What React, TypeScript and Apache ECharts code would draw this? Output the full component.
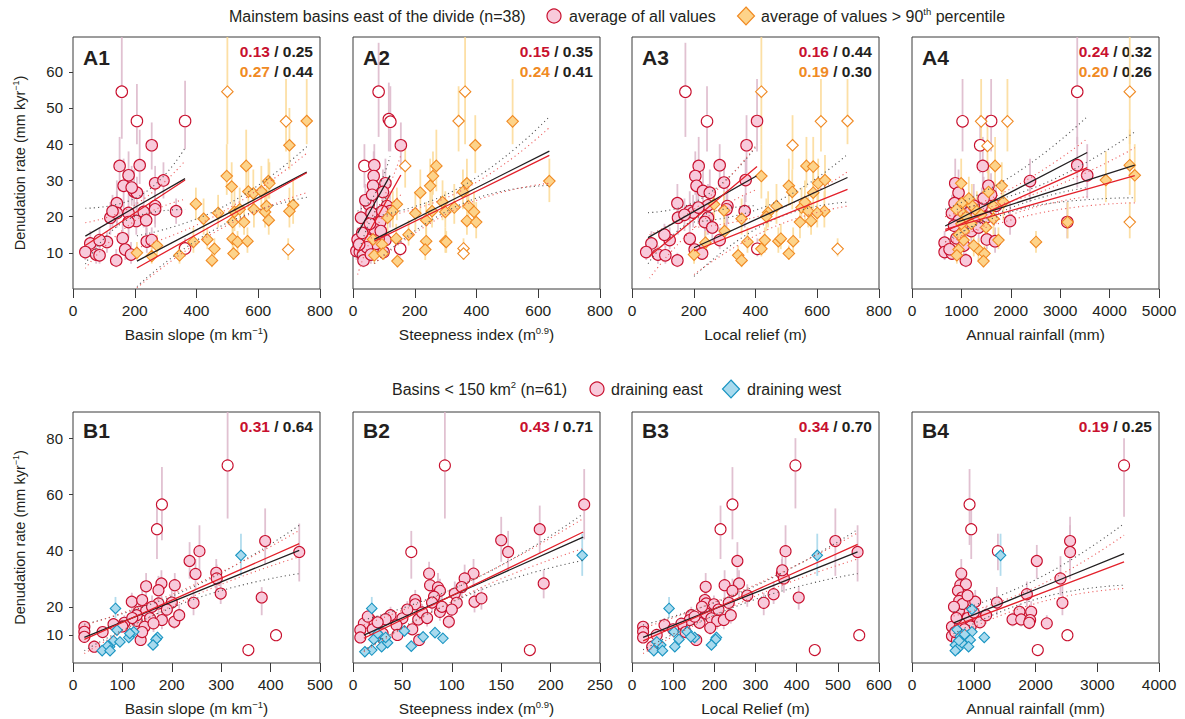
import React, { useEffect, useRef } from "react";
import * as echarts from "echarts";

// ---------- DATA: [x, y, errLow, errHigh, open(1)/filled(0)] ----------
const A1_EAST = [
  [158,54.5,41.5,70,1],[207,46.4,40,56.6,1],[363,46.4,38.6,57.5,1],[255,39.7,33,46,0],[151,34,27,42,0],
  [216,34.2,29,44,0],[180,31.4,26,38,0],[164,28.5,22,36,0],[198,26.9,22,33,0],[207,26.6,21,31,0],
  [266,29.2,24,34,0],[293,30,25,35,0],[142,23.7,18,30,0],[121,19.7,15,24,0],[142,21,17,27,0],
  [180,21,17,26,0],[229,21.3,17,27,0],[266,22.9,18,28,0],[266,22,17,27,0],[334,21.5,18,25,0],
  [205,18.8,15,24,0],[237,19,14,23,0],[180,18.5,14,22,0],[56,12.6,10,16,0],[40,10.2,8,13,0],
  [75,9.5,7,12,0],[86,9.3,7,12,0],[110,13,10,16,0],[86,13.5,11,17,0],[161,14,11,18,0],
  [169,10.9,8,14,0],[140,7.9,6,11,0],[188,9.5,7,13,0],[239,13.1,10,17,0],[255,13.5,11,17,0],
  [363,11.2,9,14,1],[128,21.5,17,26,0],[190,28,23,34,0],
];
const A1_P90 = [
  [500,54.5,40,70,1],[690,46.3,38,58,1],[757,46.4,40,58,0],[701,39.7,33,50,0],[561,34,28,44,0],
  [498,31.2,26,40,0],[514,28.3,24,35,0],[568,26.9,22,33,0],[584,26.4,22,33,0],[633,29.8,25,36,0],
  [636,29.2,25,35,0],[398,23.5,19,28,0],[423,19.4,15,25,0],[523,21.3,16,28,0],[586,22,17,27,0],
  [622,21.3,17,27,0],[627,22.9,18,29,0],[713,23.2,18,30,0],[701,21.5,17,28,0],[634,19,15,24,0],
  [554,18.5,15,23,0],[517,18.5,14,24,0],[435,13.7,11,17,0],[390,13,10,17,0],[458,11.1,9,14,0],
  [517,13.9,11,18,0],[533,13,10,16,0],[565,13.2,10,17,0],[520,9.8,8,13,0],[450,7.9,6,10,0],
  [345,9.3,7,12,0],[272,12,9,15,0],[207,10,8,13,0],[255,9.1,7,12,0],[697,10.9,8,14,1],
  [540,22,17,28,0],[470,21,17,26,0],[610,27,22,34,0],
];
const A2_EAST = [
  [83,54.5,42,68,1],[116,46.9,38,57,1],[121,46.2,38,56,1],[155,39.7,33,46,0],[37,34,28,40,1],
  [69,34.2,28,40,0],[67,31.2,26,38,0],[105,29.2,24,36,0],[65,28.5,23,34,0],[97,26.8,22,33,0],
  [51,23.4,19,28,0],[110,22.9,18,28,0],[26,19.7,16,24,0],[78,20.6,16,26,0],[120,21.5,17,27,0],
  [88,18.5,14,23,0],[60,21,17,26,0],[40,24.5,20,29,0],[15,13.7,11,17,0],[47,13.7,11,17,0],
  [11,10.5,8,13,0],[22,10.2,8,13,0],[32,9.3,7,12,0],[34,7.9,6,10,0],[99,10.2,8,13,0],
  [105,13.5,10,17,0],[83,13.9,11,18,0],[153,11.1,9,14,1],[70,16.5,13,20,0],[55,18,14,22,0],
  [90,16,12,20,0],[30,15.5,12,19,0],[75,12.5,10,16,0],[45,11.5,9,14,0],[95,21.5,17,27,0],
  [62,26,21,31,0],[20,12.3,10,15,0],[58,9.5,7,12,0],
];
const A2_P90 = [
  [363,54.5,40,70,1],[342,46.4,38,56,1],[517,46.3,40,58,0],[396,39.7,32,48,0],[169,34,28,40,1],
  [270,34,27,44,0],[259,31.2,26,38,0],[250,28.5,23,36,0],[218,26.6,21,33,0],[369,29.2,24,36,0],
  [356,26.8,22,33,0],[636,29.8,24,36,0],[142,23.4,19,28,0],[129,21.5,17,27,0],[112,19.7,15,25,0],
  [202,20.9,16,27,0],[256,21.5,17,28,0],[299,21.3,17,27,0],[328,22.5,18,29,0],[374,22.9,18,29,0],
  [392,21.3,17,27,0],[237,19,15,24,0],[369,18.8,15,24,0],[399,18.5,14,24,0],[65,13.7,11,17,0],
  [94,12.3,10,16,0],[140,13.9,11,18,0],[237,13.2,10,17,0],[234,10.9,8,14,0],[299,13.2,10,17,0],
  [302,13,10,16,0],[358,11.2,9,14,1],[358,9.8,8,12,1],[69,9.3,7,12,0],[97,9.8,8,12,0],
  [144,7.7,6,10,0],[290,24,19,30,0],[180,15,12,19,0],
];
const A3_EAST = [
  [173,54.5,42,68,1],[243,46.3,38,56,1],[405,46.4,38,58,0],[371,39.7,32,48,0],[216,34,28,42,0],
  [284,34.2,28,40,0],[205,31.2,26,38,0],[209,28.5,23,35,0],[230,27.1,22,33,0],[252,26.6,21,33,0],
  [298,29.4,24,35,0],[368,30.1,24,36,0],[147,23.7,19,29,0],[187,21.5,17,27,0],[149,19.7,15,24,0],
  [198,21.1,17,26,0],[246,23.1,18,29,0],[309,22.9,18,28,0],[306,22,17,27,0],[365,21.5,17,26,0],
  [238,18.8,15,24,0],[246,19.7,15,25,0],[63,12.6,10,16,0],[46,10.2,8,13,0],[84,9.5,7,12,0],
  [108,9.3,7,12,0],[122,13.5,11,17,0],[187,13.9,11,18,0],[203,10.9,8,14,0],[147,7.9,6,10,0],
  [227,9.8,8,13,0],[236,18.5,14,23,0],[284,13.5,11,17,0],[406,11.1,9,14,1],[170,20.5,16,25,0],
  [260,17,13,21,0],[105,15,12,18,0],[215,22.5,18,28,0],
];
const A3_P90 = [
  [419,54.5,40,70,1],[612,46.3,38,58,1],[698,46.4,40,58,1],[520,39.7,33,48,1],[565,34,28,42,0],
  [587,33.8,28,42,0],[419,31.2,25,40,0],[508,28.5,23,36,0],[519,26.8,22,33,0],[603,29.2,24,36,0],
  [625,30.1,25,37,0],[587,26.6,22,33,0],[266,23.4,19,28,0],[298,21.7,17,27,0],[355,19.4,15,25,0],
  [441,21.1,17,27,0],[468,22.9,18,29,0],[549,22.5,18,28,0],[571,21.5,17,27,0],[623,21.5,17,27,0],
  [544,18.5,14,24,0],[580,18.8,15,24,0],[374,13,10,17,0],[430,13.5,10,17,0],[474,13.2,10,17,0],
  [482,13.9,11,18,0],[522,13.2,10,17,0],[419,11.1,9,14,0],[344,9.3,7,12,0],[355,7.9,6,10,0],
  [508,9.8,8,12,0],[201,9.5,7,12,0],[238,12.8,10,16,0],[666,11.1,9,14,1],[435,20,16,25,0],
  [560,24,19,30,0],[600,21,17,26,0],[300,16,13,20,0],
];
const A4_EAST = [
  [3345,54.5,40,70,1],[1023,46.3,38,58,1],[1602,46.4,38,58,1],[1380,39.7,32,48,1],[1433,34,28,42,0],
  [875,29.2,24,36,0],[942,26.6,22,33,0],[1548,28.5,23,35,0],[2389,29.8,24,36,0],[3345,34.2,28,42,0],
  [3547,31.4,25,40,0],[861,23.7,19,29,0],[808,20.9,17,26,0],[1413,22.9,18,28,0],[1514,19.9,16,25,0],
  [1985,18.8,15,24,0],[3143,18.5,14,24,0],[660,12.8,10,16,0],[660,10.2,8,13,0],[808,9.8,8,12,0],
  [1090,7.9,6,10,0],[1514,13.7,11,17,0],[1682,13.2,10,17,0],[1000,22,17,27,0],[1150,21,17,26,0],
  [1250,23,18,29,0],[1300,20,16,25,0],[950,19,15,24,0],[1100,18,14,22,0],[1200,16,13,20,0],
  [900,14,11,17,0],[760,11,9,14,0],[1050,12,9,15,0],[1600,26,21,32,0],[1700,23,18,28,0],
  [1450,25,20,31,0],[1350,17,13,21,0],[850,17.5,14,21,0],
];
const A4_P90 = [
  [4408,54.5,40,70,1],[1400,46.3,38,58,1],[1932,46.3,38,58,1],[1528,39.5,32,48,1],[1682,34,28,42,0],
  [996,29.2,24,36,0],[1817,28.5,23,35,0],[1548,26.8,22,33,0],[4408,34.2,26,44,0],[4509,31.4,24,40,0],
  [3924,30.1,24,38,0],[1009,23.7,19,29,0],[1211,23.1,18,29,0],[976,21.5,17,27,0],[1312,21.5,17,27,0],
  [1649,22.9,18,29,0],[1649,19.4,15,25,0],[3150,18.5,14,24,0],[4408,18.5,14,24,1],[1043,13.5,11,17,0],
  [942,10.9,8,14,0],[1750,13.5,11,17,0],[1346,10.9,8,14,0],[1467,9.8,8,12,0],[1447,7.7,6,10,0],
  [2510,13,10,16,0],[908,9.3,7,12,0],[1100,20,16,25,0],[1200,18,14,23,0],[1400,20.5,16,26,0],
  [900,22,17,27,0],[1050,16,13,20,0],[950,15,12,19,0],[1250,12,9,15,0],[1500,17,13,21,0],
  [1150,25,20,31,0],[1850,24,19,30,0],[1000,18,14,22,0],
];
const B1_EAST = [
  [313,70.3,51.4,89.5,1],[180,56.4,43.7,69.7,1],[170,47.6,37,56,1],[389,43.4,35,55,0],[458,39.5,29,49.6,0],
  [256,39.8,30.6,49,0],[236,36.3,30,43,0],[290,32.1,26,37,0],[291,30.1,25,35,0],[248,31.7,26,37,0],
  [299,24.7,21,29,0],[382,23.3,17,27,0],[244,21.4,17,26,0],[179,28.3,23,33,0],[148,27.3,22,32,0],
  [206,27.7,23,32,0],[173,25.9,21,31,0],[119,21.8,18,25,0],[140,22.4,18,26,0],[173,21.2,17,25,0],
  [200,21.5,18,26,0],[133,18.2,15,21,0],[148,18.6,15,22,0],[156,15.9,13,19,0],[129,15,12,18,0],
  [104,14.3,12,17,0],[82,13.8,11,16,0],[145,12.9,10,16,0],[129,17,14,20,0],[180,15.3,12,18,0],
  [205,14.7,12,18,0],[137,8.2,6,11,0],[23,12.9,11,15,0],[23,11.1,9,13,0],[23,9.3,8,11,0],
  [43,5.8,4,8,0],[411,9.9,8,12,1],[355,4.6,3,6,1],[163,14.1,11,17,0],[190,19,16,23,0],
  [160,20,17,24,0],[120,16,13,19,0],[100,13,11,15,0],[60,11,9,13,0],[215,17,14,21,0],[140,11,9,13,0],
];
const B1_WEST = [
  [340,38.3,31,46,0],[86,19.4,16,23.5,0],[123,11.1,9,13,0],[113,9.1,7.5,11,0],[89,11.7,10,13.5,0],
  [82,7.9,6.5,9.5,0],[74,5.8,4.5,7,0],[70,6,5,7.5,0],[59,4.4,3.5,5.5,0],[171,9.1,7.5,11,0],
  [168,8.4,7,10,0],[162,6.4,5,8,0],[75,4.4,3.5,5.5,0],[115,10.5,9,12,0],[95,7.5,6,9,0],
];
const B2_EAST = [
  [93,70.3,51.4,89.5,1],[59,39.5,30,47,1],[234,56.4,44,69,0],[189,47.6,39,56,0],[150,43.7,36,52,0],
  [157,39.5,33,47,0],[193,28.3,23,33,0],[77,31.8,27,36,0],[122,31.8,27,37,0],[113,30.1,25,35,0],
  [78,27.7,23,32,0],[86,26.9,22,32,0],[88,25.7,21,30,0],[103,24.7,21,29,0],[82,23.6,20,28,0],
  [63,22.4,19,26,0],[105,21.4,18,25,0],[123,21.8,18,26,0],[80,21.5,18,25,0],[63,20.9,17,24,0],
  [88,18.2,15,21,0],[66,15.5,13,18,0],[97,14.7,12,17,0],[50,15.9,13,18,0],[38,17,14,20,0],
  [33,15.6,13,18,0],[17.5,15.3,13,18,0],[11,14.1,12,16,0],[7.4,11.7,10,13.5,0],[7.4,9.1,8,11,0],
  [44,13.5,11,16,0],[67,8.2,6,10,0],[179,4.6,3,6,1],[20,12,10,14,0],[25,14.5,12,17,0],
  [55,19,16,22,0],[70,18,15,21,0],[90,20,17,24,0],[60,12,10,14,0],[30,10.5,9,12,0],
  [15,16.5,14,19,0],[75,16,13,19,0],[100,19,16,22,0],[45,10,8.5,12,0],[130,23,19,27,0],[110,27,23,31,0],
];
const B2_WEST = [
  [232,38.3,31,46,0],[19,19.4,16,23.5,0],[52,11.4,9.5,13,0],[71,9.3,7.5,11,0],[83,10.8,9,12.5,0],
  [91,8.8,7,10.5,0],[59,6,5,7.5,0],[21,8.4,7,10,0],[31,7.6,6,9,0],[29,5.8,4.5,7,0],
  [35,7.2,6,8.5,0],[19,4.6,3.5,6,0],[12,4,3,5,0],[33,9.1,7.5,11,0],[25,10.5,9,12,0],
];
const B3_EAST = [
  [397,70.3,55,80,1],[244,56.4,44,69.7,1],[215,47.6,37,56,1],[494,43.4,31,55,0],[373,39.8,32,49,0],
  [548,39.5,29,49,0],[256,36.3,30,43,0],[364,31.8,26,37,0],[369,30.1,25,35,0],[344,24.5,21,29,0],
  [405,23.3,19,27,0],[320,21.4,17,25,0],[225,27.7,23,33,0],[260,28.3,23,33,0],[244,25.7,21,30,0],
  [179,27.1,22,32,0],[177,22.4,19,26,0],[180,21.2,18,25,0],[199,20.9,17,24,0],[235,21.4,18,25,0],
  [144,17,14,20,0],[180,17.6,15,21,0],[193,15.9,13,19,0],[207,15,12,18,0],[223,15.3,12,18,0],
  [164,14.3,12,17,0],[79,13.5,11,16,0],[140,15.3,12,18,0],[156,8.2,6,10,0],[27,12.9,11,15,0],
  [27,11.1,9,13,0],[27,9.1,8,11,0],[49,5.8,4,8,0],[552,9.9,8,12,1],[444,4.6,3,6,1],
  [152,16.5,14,19,0],[210,19,16,22,0],[120,14,12,16,0],[100,12,10,14,0],[170,20,17,23,0],
  [240,17,14,20,0],[130,11,9,13,0],[60,10,8.5,12,0],[190,12.5,10,15,0],[365,33,28,38,0],[280,24,20,28,0],
];
const B3_WEST = [
  [450,38.3,31,46,0],[90,19.4,16,23.5,0],[102,11.1,9,13,0],[134,11.1,9,13,0],[152,9.1,7.5,11,0],
  [114,8.4,7,10,0],[104,5.8,4.5,7,0],[70,6.4,5,8,0],[53,4.4,3.5,5.5,0],[74,4.4,3.5,5.5,0],
  [205,9.1,7.5,11,0],[203,8.4,7,10,0],[193,6.4,5,8,0],[143,9.3,7.5,11,0],[60,7.5,6,9,0],
];
const B4_EAST = [
  [3434,70.3,52,80,1],[932,56.4,42,69,1],[959,47.6,37,56,1],[1391,39.8,33,46,1],[2560,43.4,36,52,0],
  [2560,39.5,30,49,0],[2021,36.3,30,42,0],[2404,30.1,24,38,0],[2436,21.4,17,28,0],[798,31.8,26,37,0],
  [782,27.7,23,33,0],[873,28,23,33,0],[744,25.7,21,30,0],[808,23.3,19,27,0],[765,22.1,18,26,0],
  [1024,21.8,18,26,0],[1375,21.5,17,27,0],[1860,24.5,20,29,0],[1930,18.2,15,22,0],[1741,18.2,15,21,0],
  [1628,15.5,13,18,0],[1768,15.5,13,18,0],[1913,15.3,12,18,0],[1898,14.3,12,17,0],[2183,14.1,12,17,0],
  [836,17,14,20,0],[1067,15.9,13,19,0],[647,12.9,11,15,0],[647,9.6,8,11,0],[728,8.2,6.5,10,0],
  [2517,9.9,8,12,1],[2037,4.6,3,6,1],[870,19,16,22,0],[900,16,13,19,0],[780,14,12,16,0],
  [700,11,9,13,0],[950,13,11,15,0],[850,12,10,14,0],[1000,18,15,21,0],[1100,14.5,12,17,0],
  [760,18.5,15,22,0],[820,21,18,24,0],[900,24,20,28,0],[720,16,13,19,0],[1200,17,14,20,0],[680,20,17,23,0],
];
const B4_WEST = [
  [1434,38.3,31,46,0],[970,19.1,16,23,0],[970,11.1,9,13,0],[1170,9.1,7.5,11,0],[728,11.9,10,14,0],
  [782,9.5,8,11,0],[836,9.1,7.5,11,0],[943,8.2,7,10,0],[701,6.4,5,8,0],[744,5.2,4,6.5,0],
  [701,4.4,3.5,5.5,0],[916,5.8,4.5,7,0],[808,7.2,6,8.5,0],[852,10.2,8.5,12,0],[760,8,6.5,9.5,0],
];

// ---------- regression fits: [x, fit, bandLow, bandHigh] ----------
const A1_FIT_EAST_K = [[40,14.6,6.9,22.3],[200,22.5,20,25],[363,30.5,22,39]];
const A1_FIT_EAST_R = [[40,12,5.7,18.3],[200,21,18.8,23.2],[363,30.1,24.8,35.4]];
const A1_FIT_P90_K = [[207,7.7,0.7,14.7],[482,20,17.5,22.5],[757,32.3,25.3,39.3]];
const A1_FIT_P90_R = [[207,5.8,0.3,11.3],[482,19,16.8,21.2],[757,32.1,26.6,37.5]];
const A2_FIT_EAST_K = [[15,15.4,9,21.5],[68,23.4,21,25.8],[120,31.3,26,36.6]];
const A2_FIT_EAST_R = [[15,10,4,16],[85,20.8,18.5,23],[155,31.5,26,37]];
const A2_FIT_P90_K = [[69,13.7,7,20],[352,25.9,23.5,28.3],[636,38.1,28.6,47.6]];
const A2_FIT_P90_R = [[69,13.2,7,19.5],[352,25,22.8,27.2],[636,36.9,29.2,44.6]];
const A3_FIT_EAST_K = [[52,14.2,7,21.1],[227,22.7,20.3,25.1],[403,31.2,23,39.5]];
const A3_FIT_EAST_R = [[57,9.1,3,15],[231,21.4,19,24],[405,33.8,27.5,40]];
const A3_FIT_P90_K = [[201,11.4,3.5,18.5],[450,21.1,18.8,23.4],[698,30.8,24,37.2]];
const A3_FIT_P90_R = [[201,10.5,4,17],[450,19,16.8,21.2],[698,27.5,22.9,32.4]];
const A4_FIT_EAST_K = [[673,17.4,13,22],[2110,27.5,23,32],[3547,37.7,28,47.6]];
const A4_FIT_EAST_R = [[673,16,12,20],[2110,24.8,21,28.5],[3547,33.5,25.5,41.5]];
const A4_FIT_P90_K = [[908,18.5,15,22],[2708,26.4,23.5,29.3],[4509,34.2,25.2,43.4]];
const A4_FIT_P90_R = [[673,16.5,13,20],[2591,23.9,21,26.8],[4509,31.3,23.8,39]];
const B1_FIT_K = [[23,9.1,4.4,13.8],[240,24.6,22.4,26.8],[458,40.1,31.8,49]];
const B1_FIT_R = [[23,8.4,3.4,13.4],[240,25.5,23.5,27.4],[458,42.5,37.8,47.2]];
const B2_FIT_K = [[11,9.9,4.5,15.3],[122,27.4,25,29.7],[233,44.8,36.5,53.1]];
const B2_FIT_R = [[11,8.8,4,13.6],[122,27.7,25.6,29.8],[233,46.6,40.7,51.4]];
const B3_FIT_K = [[27,9.1,4.7,13.5],[287,24.3,22,26.6],[548,39.5,31.8,47.5]];
const B3_FIT_R = [[27,7.9,3.4,12.4],[287,25,23,27],[548,42.2,37,46.3]];
const B4_FIT_K = [[674,14.3,10.4,18.2],[2054,26.6,23,30.2],[3434,38.9,27.7,49.6]];
const B4_FIT_R = [[674,13.1,9.5,16.7],[2054,24.5,21.5,27.5],[3434,36,26.5,45.5]];

// R² labels
const R2_A1 = [["0.13", "0.25"], ["0.27", "0.44"]];
const R2_A2 = [["0.15", "0.35"], ["0.24", "0.41"]];
const R2_A3 = [["0.16", "0.44"], ["0.19", "0.30"]];
const R2_A4 = [["0.24", "0.32"], ["0.20", "0.26"]];
const R2_B1 = [["0.31", "0.64"]];
const R2_B2 = [["0.43", "0.71"]];
const R2_B3 = [["0.34", "0.70"]];
const R2_B4 = [["0.19", "0.25"]];

const TOP_Y_TICKS = [10, 20, 30, 40, 50, 60];
const BOT_Y_TICKS = [10, 20, 40, 60, 80];

// ---------- styling ----------
const FONT = "'Liberation Sans', Arial, Helvetica, sans-serif";
const TXT = "#231f20";
const COL = {
  pinkFill: "#f8cadb", red: "#c8102e", orangeFill: "#fdd38a", orange: "#f08a24",
  blueFill: "#a8daee", blue: "#1a95c2",
  pinkBar: "#dcb6c9", orangeBar: "#fbd995", blueBar: "#a5d6ea",
  fitRed: "#e3202a", fitBlack: "#231f20", dotRed: "#ec5b5b", dotBlack: "#555555",
};
const GROUP = {
  east: { symbol: "circle", fill: COL.pinkFill, stroke: COL.red, bar: COL.pinkBar },
  p90: { symbol: "diamond", fill: COL.orangeFill, stroke: COL.orange, bar: COL.orangeBar },
  west: { symbol: "diamond", fill: COL.blueFill, stroke: COL.blue, bar: COL.blueBar },
};

const COL_LEFT = [73, 353, 632, 912];
const GRID_W = 247;
const ROW_TOP = [37, 412];
const ROW_H = [252, 251];
const ROW_YMAX = [69.6, 89.3];

const AX_FS = 15.5;
const SUP_RICH = {
  n: { fontSize: AX_FS, fontFamily: FONT, color: TXT, lineHeight: 19 },
  s: { fontSize: 9.5, fontFamily: FONT, color: TXT, lineHeight: 19, verticalAlign: "top" },
};
const YSUP_RICH = {
  n: { fontSize: 14.5, fontFamily: FONT, color: TXT, lineHeight: 18 },
  s: { fontSize: 9, fontFamily: FONT, color: TXT, lineHeight: 18, verticalAlign: "top" },
};

const PANELS = [
  { label: "A1", row: 0, col: 0, xmax: 800, xint: 200, xname: "{n|Basin slope (m km}{s|−1}{n|)}",
    groups: [[A1_EAST, "east"], [A1_P90, "p90"]],
    fits: [[A1_FIT_EAST_K, "k"], [A1_FIT_EAST_R, "r"], [A1_FIT_P90_K, "k"], [A1_FIT_P90_R, "r"]], r2: R2_A1 },
  { label: "A2", row: 0, col: 1, xmax: 800, xint: 200, xname: "{n|Steepness index (m}{s|0.9}{n|)}",
    groups: [[A2_EAST, "east"], [A2_P90, "p90"]],
    fits: [[A2_FIT_EAST_K, "k"], [A2_FIT_EAST_R, "r"], [A2_FIT_P90_K, "k"], [A2_FIT_P90_R, "r"]], r2: R2_A2 },
  { label: "A3", row: 0, col: 2, xmax: 800, xint: 200, xname: "{n|Local relief (m)}",
    groups: [[A3_EAST, "east"], [A3_P90, "p90"]],
    fits: [[A3_FIT_EAST_K, "k"], [A3_FIT_EAST_R, "r"], [A3_FIT_P90_K, "k"], [A3_FIT_P90_R, "r"]], r2: R2_A3 },
  { label: "A4", row: 0, col: 3, xmax: 5000, xint: 1000, xname: "{n|Annual rainfall (mm)}",
    groups: [[A4_EAST, "east"], [A4_P90, "p90"]],
    fits: [[A4_FIT_EAST_K, "k"], [A4_FIT_EAST_R, "r"], [A4_FIT_P90_K, "k"], [A4_FIT_P90_R, "r"]], r2: R2_A4 },
  { label: "B1", row: 1, col: 0, xmax: 500, xint: 100, xname: "{n|Basin slope (m km}{s|−1}{n|)}",
    groups: [[B1_EAST, "east"], [B1_WEST, "west"]], fits: [[B1_FIT_K, "k"], [B1_FIT_R, "r"]], r2: R2_B1 },
  { label: "B2", row: 1, col: 1, xmax: 250, xint: 50, xname: "{n|Steepness index (m}{s|0.9}{n|)}",
    groups: [[B2_EAST, "east"], [B2_WEST, "west"]], fits: [[B2_FIT_K, "k"], [B2_FIT_R, "r"]], r2: R2_B2 },
  { label: "B3", row: 1, col: 2, xmax: 600, xint: 100, xname: "{n|Local Relief (m)}",
    groups: [[B3_EAST, "east"], [B3_WEST, "west"]], fits: [[B3_FIT_K, "k"], [B3_FIT_R, "r"]], r2: R2_B3 },
  { label: "B4", row: 1, col: 3, xmax: 4000, xint: 1000, xname: "{n|Annual rainfall (mm)}",
    groups: [[B4_EAST, "east"], [B4_WEST, "west"]], fits: [[B4_FIT_K, "k"], [B4_FIT_R, "r"]], r2: R2_B4 },
];

function buildOption() {
  const grid: any[] = [];
  const xAxis: any[] = [];
  const yAxis: any[] = [];
  const series: any[] = [];
  const graphic: any[] = [];

  PANELS.forEach((p, i) => {
    const left = COL_LEFT[p.col];
    const top = ROW_TOP[p.row];
    const h = ROW_H[p.row];
    const ymax = ROW_YMAX[p.row];
    grid.push({ left, top, width: GRID_W, height: h, show: true, borderColor: "#3a3a3a", borderWidth: 1, backgroundColor: "transparent" });
    xAxis.push({
      gridIndex: i, type: "value", min: 0, max: p.xmax, interval: p.xint,
      axisLine: { show: false },
      axisTick: { show: true, length: 9, lineStyle: { color: "#3a3a3a", width: 1 } },
      axisLabel: { fontSize: AX_FS, color: TXT, fontFamily: FONT, margin: 13, showMinLabel: true, showMaxLabel: true, formatter: (v: number) => String(v) },
      splitLine: { show: false },
      name: p.xname, nameLocation: "middle", nameGap: 36,
      nameTextStyle: { rich: SUP_RICH },
    });
    const firstCol = p.col === 0;
    const ticks = p.row === 0 ? TOP_Y_TICKS : BOT_Y_TICKS;
    yAxis.push({
      gridIndex: i, type: "value", min: 0, max: ymax,
      axisLine: { show: false },
      axisTick: firstCol ? { show: true, length: 4, customValues: ticks, lineStyle: { color: "#3a3a3a" } } : { show: false },
      axisLabel: firstCol ? { show: true, customValues: ticks, fontSize: 15, color: TXT, fontFamily: FONT, margin: 10, formatter: (v: number) => String(v) } : { show: false },
      splitLine: { show: false },
      name: firstCol ? "{n|Denudation rate (mm kyr}{s|−1}{n|)}" : "",
      nameLocation: "middle", nameGap: 44, nameRotate: 90,
      nameTextStyle: { rich: YSUP_RICH },
    });

    const small = p.row === 1;
    // error bars
    p.groups.forEach(([data, kind]: any) => {
      const g = (GROUP as any)[kind];
      series.push({
        type: "custom", xAxisIndex: i, yAxisIndex: i, silent: true, z: 2,
        data: data.map((d: number[]) => [d[0], d[1], d[2], Math.min(d[3], ymax)]),
        encode: { x: 0, y: 1 },
        renderItem: (_params: any, api: any) => {
          const a = api.coord([api.value(0), api.value(2)]);
          const b = api.coord([api.value(0), api.value(3)]);
          return { type: "line", shape: { x1: a[0], y1: a[1], x2: b[0], y2: b[1] }, style: { stroke: g.bar, lineWidth: 1.8, opacity: 0.85 } };
        },
      });
    });
    // markers
    p.groups.forEach(([data, kind]: any, gi: number) => {
      const g = (GROUP as any)[kind];
      const size = g.symbol === "circle" ? (small ? 11 : 11.5) : (kind === "west" ? 10.5 : 11.5);
      series.push({
        type: "scatter", xAxisIndex: i, yAxisIndex: i, silent: true, z: 3 + gi,
        symbol: g.symbol, symbolSize: size,
        data: data.map((d: number[]) => ({
          value: [d[0], d[1]],
          itemStyle: { color: d[4] ? "#ffffff" : g.fill, borderColor: g.stroke, borderWidth: 1.1, opacity: 1 },
        })),
      });
    });
    // fits
    p.fits.forEach(([fit, c]: any) => {
      const solid = c === "r" ? COL.fitRed : COL.fitBlack;
      const dot = c === "r" ? COL.dotRed : COL.dotBlack;
      series.push({
        type: "line", xAxisIndex: i, yAxisIndex: i, silent: true, z: 6, symbol: "none",
        data: fit.map((r: number[]) => [r[0], r[1]]),
        lineStyle: { color: solid, width: 1.3 },
      });
      [2, 3].forEach((k) => {
        series.push({
          type: "line", xAxisIndex: i, yAxisIndex: i, silent: true, z: 5, symbol: "none", smooth: true,
          data: fit.map((r: number[]) => [r[0], r[k]]),
          lineStyle: { color: dot, width: 1.1, type: [1.1, 3.2] },
        });
      });
    });

    // panel label
    graphic.push({
      type: "text", x: left + 10, y: top + (p.row === 0 ? 20 : 18), silent: true,
      style: { text: p.label, fill: TXT, fontSize: 21, fontWeight: "bold", fontFamily: FONT, align: "left", verticalAlign: "middle", textAlign: "left", textVerticalAlign: "middle" },
    });
    // R² texts
    p.r2.forEach((pair: string[], li: number) => {
      graphic.push({
        type: "text", x: left + GRID_W - 7, y: top + 14 + li * 20, silent: true,
        style: {
          text: `{c|${pair[0]}}{k| / ${pair[1]}}`,
          align: "right", verticalAlign: "middle", textAlign: "right", textVerticalAlign: "middle",
          rich: {
            c: { fill: li === 0 ? COL.red : COL.orange, fontSize: 15.5, fontWeight: "bold", fontFamily: FONT },
            k: { fill: TXT, fontSize: 15.5, fontWeight: "bold", fontFamily: FONT },
          },
        },
      });
    });
  });

  // legends
  const legTxt = (x: number, y: number, text: string) => ({
    type: "text", x, y, silent: true,
    style: {
      text, align: "left", verticalAlign: "middle", textAlign: "left", textVerticalAlign: "middle",
      rich: {
        n: { fill: TXT, fontSize: 16, fontFamily: FONT, lineHeight: 20 },
        s: { fill: TXT, fontSize: 9.5, fontFamily: FONT, lineHeight: 20, verticalAlign: "top" },
      },
    },
  });
  const legCircle = (cx: number, cy: number) => ({
    type: "circle", silent: true, shape: { cx, cy, r: 7 }, style: { fill: COL.pinkFill, stroke: COL.red, lineWidth: 1.2 },
  });
  const legDiamond = (cx: number, cy: number, fill: string, stroke: string) => ({
    type: "polygon", silent: true,
    shape: { points: [[cx, cy - 9], [cx + 8.5, cy], [cx, cy + 9], [cx - 8.5, cy]] },
    style: { fill, stroke, lineWidth: 1.2 },
  });
  graphic.push(legTxt(229, 16, "{n|Mainstem basins east of the divide (n=38)}"));
  graphic.push(legCircle(554, 16));
  graphic.push(legTxt(569, 16, "{n|average of all values}"));
  graphic.push(legDiamond(746, 16, COL.orangeFill, COL.orange));
  graphic.push(legTxt(761, 16, "{n|average of values > 90}{s|th}{n| percentile}"));

  graphic.push(legTxt(392, 389, "{n|Basins < 150 km}{s|2}{n| (n=61)}"));
  graphic.push(legCircle(597, 389));
  graphic.push(legTxt(611, 389, "{n|draining east}"));
  graphic.push(legDiamond(731, 389, COL.blueFill, COL.blue));
  graphic.push(legTxt(747, 389, "{n|draining west}"));

  return {
    animation: false,
    backgroundColor: "#ffffff",
    textStyle: { fontFamily: FONT },
    grid, xAxis, yAxis, series, graphic,
  };
}

export default function App() {
  const ref = useRef<HTMLDivElement>(null);
  useEffect(() => {
    if (!ref.current) return;
    const chart = echarts.init(ref.current, undefined, { renderer: "svg" });
    chart.setOption(buildOption() as any);
    return () => chart.dispose();
  }, []);
  return (
    <div
      ref={ref}
      style={{ position: "fixed", left: 0, top: 0, width: 1185, height: 719, background: "#fff" }}
    />
  );
}
